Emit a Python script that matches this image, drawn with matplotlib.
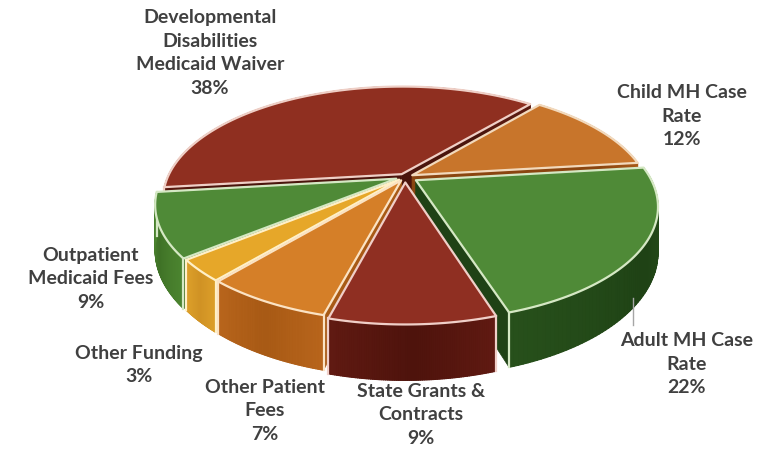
import numpy as np
import matplotlib
matplotlib.use("Agg")
import matplotlib.pyplot as plt
from matplotlib.patches import Polygon
from matplotlib.collections import PolyCollection

# funding shares, clockwise from the top right
names = ["Child MH Case\nRate", "Adult MH Case\nRate", "State Grants &\nContracts",
         "Other Patient\nFees", "Other Funding", "Outpatient\nMedicaid Fees",
         "Developmental\nDisabilities\nMedicaid Waiver"]
shares = [12, 22, 9, 7, 3, 9, 38]

top_colors = ["#C8752B", "#4F8A37", "#8F2F22", "#D57F28", "#E6A729", "#4F8A37", "#8F2F20"]
side_light = ["#A85A18", "#27501B", "#601A12", "#B8651C", "#DDA02A", "#4C8530", "#5A1A10"]
side_dark = ["#8A4510", "#1F4215", "#4E130C", "#A85A15", "#D09224", "#3F7226", "#4A140C"]
edge_colors = ["#F2D9BC", "#D5E8C4", "#F0CFC8", "#FBE3C4", "#FFF0C8", "#D5E8C4", "#EFCFC6"]
explode = [0.035, 0.055, 0.05, 0.035, 0.035, 0.04, 0.03]

label_x = [682, 687, 421, 265, 139, 91, 210]
label_y = [116, 364, 415, 411, 365, 279, 53]

CX, CY = 405, 177
RX, RY = 234, 108
PERSP = 0.22
DEPTH = 43
START = 40.0


def project(u, v, z=0.0):
    w = 1.0 / (1.0 - PERSP * v)
    return CX + RX * u * w, CY + RY * v * w + DEPTH * z * w


def draw_slice(ax, a0, a1, off, top, light, dark, edge, zo):
    mid = np.radians((a0 + a1) / 2)
    ox, oy = off * np.sin(mid), -off * np.cos(mid)
    t = np.radians(np.linspace(a0, a1, 80))
    u = ox + np.sin(t)
    v = oy - np.cos(t)

    # cut faces
    for k in (0, -1):
        pts = [project(ox, oy), project(ox, oy, 1), project(u[k], v[k], 1), project(u[k], v[k])]
        ax.add_patch(Polygon(pts, fc=dark, ec=dark, lw=0.5, zorder=zo))

    # outer wall: solid base, then shaded strips on top
    base = [project(a, b) for a, b in zip(u, v)] + [project(a, b, 1) for a, b in zip(u[::-1], v[::-1])]
    ax.add_patch(Polygon(base, fc=dark, ec="none", zorder=zo + 0.05))
    strips = []
    cols = []
    base_l = np.array(matplotlib.colors.to_rgb(light))
    base_d = np.array(matplotlib.colors.to_rgb(dark))
    for i in range(len(t) - 1):
        strips.append([project(u[i], v[i]), project(u[i + 1], v[i + 1]),
                       project(u[i + 1], v[i + 1], 1), project(u[i], v[i], 1)])
        f = abs(2 * i / (len(t) - 2) - 1)
        cols.append(base_d + (base_l - base_d) * f)
    ax.add_collection(PolyCollection(strips, facecolors=cols, edgecolors=cols,
                                     linewidths=0.8, zorder=zo + 0.1))
    for k in (0, -1):
        if v[k] > 0.0:
            p0, p1 = project(u[k], v[k]), project(u[k], v[k], 1)
            ax.plot([p0[0], p1[0]], [p0[1], p1[1]], color=edge, lw=1.6, zorder=zo + 0.2)

    # top face
    rim = [project(a, b) for a, b in zip(u, v)]
    pts = [project(ox, oy)] + rim
    ax.add_patch(Polygon(pts, closed=True, fc=top, ec=edge, lw=1.6, joinstyle="round", zorder=zo + 0.3))


fig = plt.figure(figsize=(7.78, 4.49), dpi=100)
ax = fig.add_axes([0, 0, 1, 1])
ax.set_xlim(0, 778)
ax.set_ylim(449, 0)
ax.axis("off")

angles = START + np.cumsum([0] + shares) * 3.6

# back slices first so nearer ones cover them
mids = (angles[:-1] + angles[1:]) / 2
depth_order = np.argsort(-np.cos(np.radians(mids)))
for zo, i in enumerate(depth_order):
    draw_slice(ax, angles[i], angles[i + 1], explode[i], top_colors[i], side_light[i],
               side_dark[i], edge_colors[i], zo * 2 + 1)

# leader line for the adult case rate label
ax.plot([633, 633], [298, 325], color="#A6A6A6", lw=1.0, zorder=30)

for i in range(len(names)):
    ax.text(label_x[i], label_y[i], f"{names[i]}\n{shares[i]}%", ha="center", va="center",
            family="Lato", fontweight="bold", fontsize=14, color="#404040",
            linespacing=1.46, zorder=40)

fig.savefig("out.png", dpi=100)
